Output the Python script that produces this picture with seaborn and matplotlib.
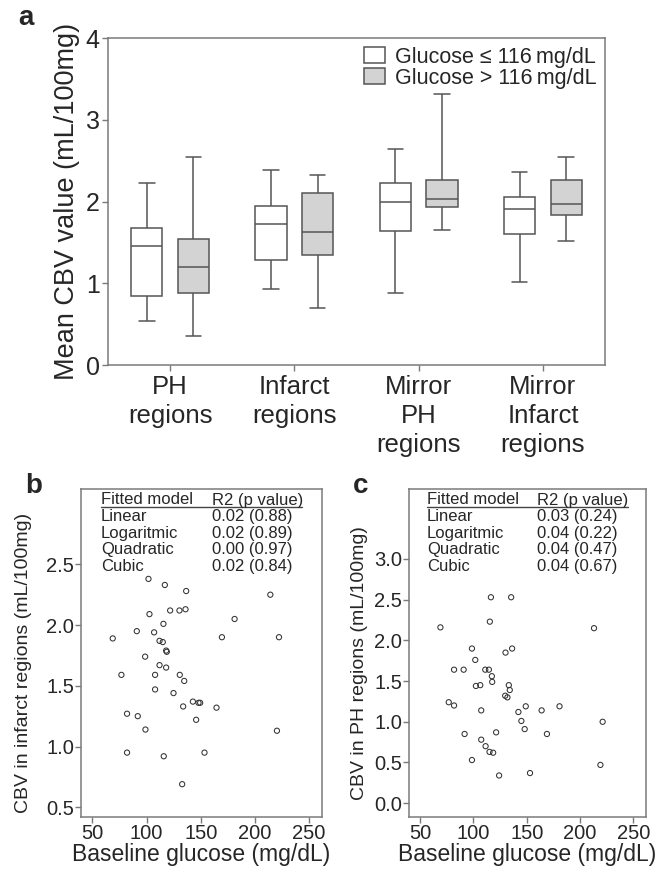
import pandas as pd
import matplotlib
matplotlib.use("Agg")
import matplotlib.pyplot as plt
import seaborn as sns

# ---- panel a: box summaries (min, q1, median, q3, max)
regions = ["PH\nregions", "Infarct\nregions", "Mirror\nPH\nregions", "Mirror\nInfarct\nregions"]
groups = ["Glucose \u2264 116\u2009mg/dL", "Glucose > 116\u2009mg/dL"]
low_glucose = [
    [0.54, 0.84, 1.45, 1.68, 2.23],
    [0.93, 1.28, 1.72, 1.95, 2.38],
    [0.88, 1.64, 2.00, 2.23, 2.64],
    [1.01, 1.60, 1.91, 2.05, 2.36],
]
high_glucose = [
    [0.35, 0.88, 1.20, 1.54, 2.54],
    [0.70, 1.35, 1.63, 2.11, 2.33],
    [1.65, 1.93, 2.03, 2.26, 3.31],
    [1.52, 1.84, 1.97, 2.26, 2.54],
]

# ---- panel b: baseline glucose vs CBV in infarct regions
glu_b = [101.8, 116.9, 136.6, 214.3, 102.7, 121.8, 130.4, 136.0, 181.3, 115.6,
         91.0, 107.0, 68.8, 169.6, 222.3, 112.0, 115.0, 118.1, 118.7, 98.7,
         112.0, 118.1, 76.8, 107.9, 130.7, 134.8, 107.9, 124.9, 142.8, 148.0,
         149.5, 133.8, 164.6, 82.0, 91.9, 145.8, 99.0, 220.4, 82.0, 115.9,
         153.5, 132.9]
cbv_b = [2.38, 2.33, 2.28, 2.25, 2.09, 2.12, 2.12, 2.13, 2.05, 2.01,
         1.95, 1.94, 1.89, 1.90, 1.90, 1.87, 1.86, 1.79, 1.78, 1.74,
         1.67, 1.65, 1.59, 1.59, 1.59, 1.54, 1.47, 1.44, 1.37, 1.36,
         1.36, 1.33, 1.32, 1.27, 1.25, 1.22, 1.14, 1.13, 0.95, 0.92,
         0.95, 0.69]
fit_b = [("Linear", "0.02 (0.88)"), ("Logaritmic", "0.02 (0.89)"),
         ("Quadratic", "0.00 (0.97)"), ("Cubic", "0.02 (0.84)")]

# ---- panel c: baseline glucose vs CBV in PH regions
glu_c = [116.4, 135.4, 115.4, 69.0, 213.2, 98.6, 136.3, 130.1, 101.7, 81.8,
         90.8, 111.1, 114.5, 117.3, 117.6, 102.3, 106.4, 133.2, 134.1, 129.8,
         131.9, 76.8, 81.8, 107.3, 142.2, 149.1, 164.0, 180.8, 145.0, 221.3,
         148.1, 91.7, 121.3, 169.0, 107.3, 111.4, 115.1, 118.5, 98.6, 219.2,
         124.1, 153.1]
cbv_c = [2.53, 2.53, 2.23, 2.16, 2.15, 1.90, 1.90, 1.85, 1.76, 1.64,
         1.64, 1.64, 1.64, 1.56, 1.49, 1.44, 1.45, 1.45, 1.39, 1.32,
         1.30, 1.24, 1.20, 1.14, 1.12, 1.19, 1.14, 1.19, 1.01, 1.00,
         0.91, 0.85, 0.87, 0.85, 0.78, 0.70, 0.63, 0.62, 0.53, 0.47,
         0.34, 0.37]
fit_c = [("Linear", "0.03 (0.24)"), ("Logaritmic", "0.04 (0.22)"),
         ("Quadratic", "0.04 (0.47)"), ("Cubic", "0.04 (0.67)")]

rows = []
for i, reg in enumerate(regions):
    for grp, vals in zip(groups, [low_glucose[i], high_glucose[i]]):
        for v in vals:
            rows.append({"region": reg, "group": grp, "cbv": v})
df = pd.DataFrame(rows)

sns.set_theme(style="white")
plt.rcParams["font.family"] = ["Liberation Sans", "DejaVu Sans"]
edge = "#555555"
spine = "#7a7a7a"

fig = plt.figure(figsize=(6.56, 8.73), dpi=100)
W, H = 656, 873


def axes_px(left, top, right, bottom):
    return fig.add_axes([left / W, 1 - bottom / H, (right - left) / W, (bottom - top) / H])


# ---------------- panel a
ax = axes_px(108, 38, 605, 365)
sns.boxplot(data=df, x="region", y="cbv", hue="group", order=regions, hue_order=groups,
            palette={groups[0]: "white", groups[1]: "#d3d3d3"}, whis=(0, 100),
            width=0.75, gap=0.33, linecolor=edge, linewidth=1.1, ax=ax)
ax.set_ylim(0, 4)
ax.set_xlim(-0.5, 3.5)
ax.set_yticks([0, 1, 2, 3, 4])
ax.tick_params(axis="y", labelsize=18, length=4, width=1, color=spine, pad=2, left=True)
ax.tick_params(axis="x", labelsize=18.5, length=4, width=1, color=spine, pad=3, bottom=True)
for lab in ax.get_xticklabels():
    lab.set_linespacing(1.27)
ax.set_xlabel("")
ax.set_ylabel("Mean CBV value (mL/100mg)", fontsize=19.5, labelpad=4)
for s in ax.spines.values():
    s.set_color(spine)
    s.set_linewidth(1.1)
ax.legend(loc="upper right", frameon=False, fontsize=15.5, handlelength=1.0,
          handleheight=0.75, handletextpad=0.45, labelspacing=0.0,
          borderaxespad=0.2, borderpad=0.2)
fig.text(18 / W, 1 - 18 / H, "a", fontsize=20, fontweight="bold", ha="left", va="center")


# ---------------- panels b and c
def scatter_panel(box, x, y, fits, ylabel, ylim, yticks, letter, letter_x, label_x,
                  col1, col2, line_end):
    ax = axes_px(*box)
    sns.scatterplot(x=x, y=y, marker="o", s=14, facecolors="none", edgecolor="#333333",
                    linewidth=0.75, ax=ax)
    ax.set_xlim(39.5, 262)
    ax.set_ylim(*ylim)
    ax.set_xticks([50, 100, 150, 200, 250])
    ax.set_yticks(yticks)
    ax.set_yticklabels(["{:.1f}".format(t) for t in yticks])
    ax.tick_params(axis="both", labelsize=14.5, length=4, width=1, color=spine, pad=1,
                   left=True, bottom=True)
    ax.set_xlabel("Baseline glucose (mg/dL)", fontsize=16.5, labelpad=0)
    ax.set_ylabel(ylabel, fontsize=14, labelpad=2)
    ax.yaxis.set_label_coords(label_x, 0.47)
    for s in ax.spines.values():
        s.set_color(spine)
        s.set_linewidth(1.1)
    height = box[3] - box[1]
    ys = [1 - (11 + 16.6 * i) / height for i in range(5)]
    ax.text(col1, ys[0], "Fitted model", transform=ax.transAxes, fontsize=12, va="center")
    ax.text(col2, ys[0], "R2 (p value)", transform=ax.transAxes, fontsize=12, va="center")
    uy = 1 - 18.0 / height
    ax.plot([col1, line_end], [uy, uy], transform=ax.transAxes, color="#444444", lw=1,
            clip_on=False)
    for i, (name, val) in enumerate(fits):
        ax.text(col1, ys[i + 1], name, transform=ax.transAxes, fontsize=12, va="center")
        ax.text(col2, ys[i + 1], val, transform=ax.transAxes, fontsize=12, va="center")
    fig.text(letter_x / W, 1 - 486 / H, letter, fontsize=20, fontweight="bold",
             ha="left", va="center")


scatter_panel((81, 489, 322, 817), glu_b, cbv_b, fit_b,
              "CBV in infarct regions (mL/100mg)", (0.42, 3.12),
              [0.5, 1.0, 1.5, 2.0, 2.5], "b", 25, -0.205, 0.083, 0.544, 0.917)
scatter_panel((409, 489, 646, 817), glu_c, cbv_c, fit_c,
              "CBV in PH regions (mL/100mg)", (-0.17, 3.86),
              [0.0, 0.5, 1.0, 1.5, 2.0, 2.5, 3.0], "c", 353, -0.173, 0.075, 0.541, 0.924)

fig.savefig("out.png", dpi=100)
